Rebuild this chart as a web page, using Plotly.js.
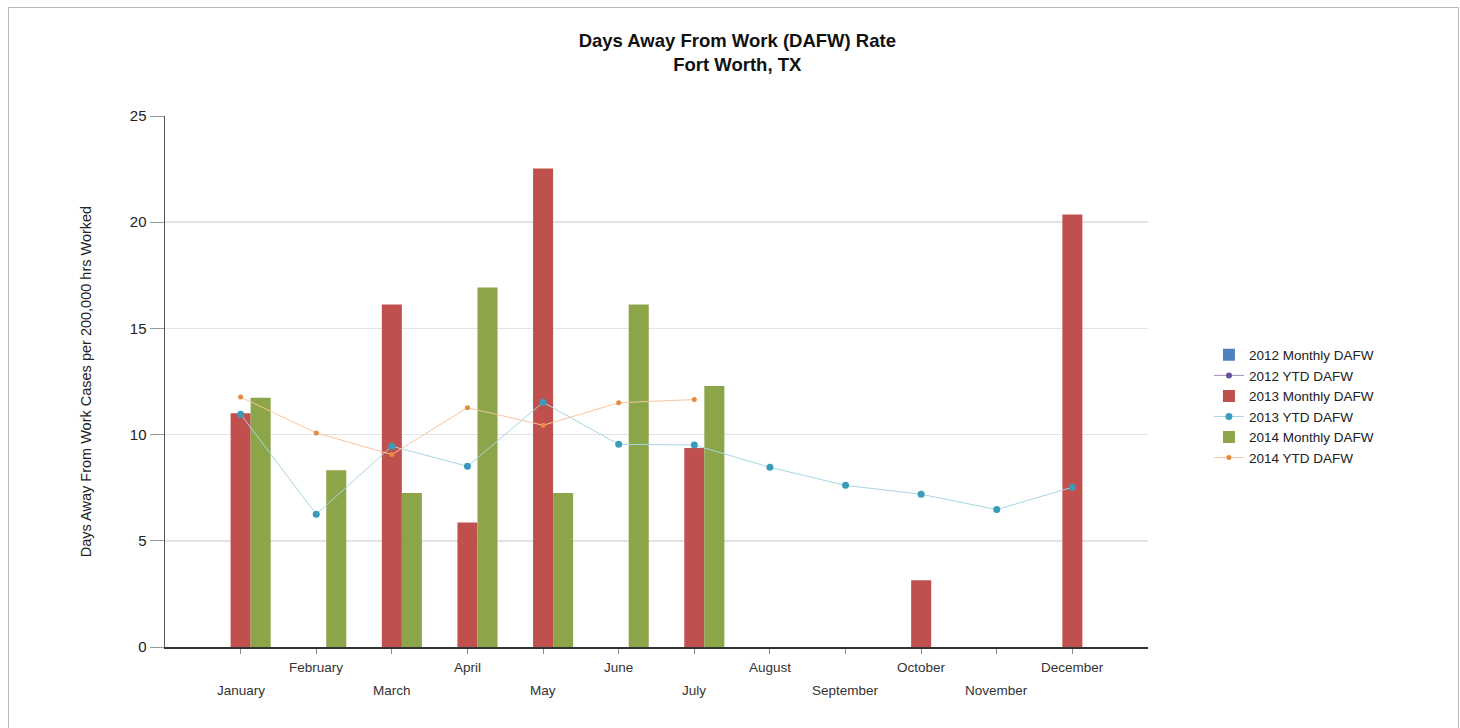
<!DOCTYPE html>
<html>
<head>
<meta charset="utf-8">
<script src="https://cdn.plot.ly/plotly-3.0.1.min.js"></script>
<style>
  html, body { margin: 0; padding: 0; background: #fff; }
  #chart { width: 1460px; height: 728px; position: absolute; left: 0; top: 0; }
  #frame { position: absolute; left: 8px; top: 7px; width: 1449px; height: 760px; border: 1px solid #b8b8b8; pointer-events: none; }
</style>
</head>
<body>
<div id="chart"></div>
<div id="frame"></div>
<script>
const months = ["January","February","March","April","May","June","July","August","September","October","November","December"];
const monthly2012 = [null,null,null,null,null,null,null,null,null,null,null,null];
const ytd2012 = [null,null,null,null,null,null,null,null,null,null,null,null];
const monthly2013 = [11.0, null, 16.13, 5.86, 22.53, null, 9.37, null, null, 3.14, null, 20.36];
const ytd2013 = [10.96, 6.25, 9.45, 8.51, 11.52, 9.54, 9.51, 8.46, 7.61, 7.19, 6.47, 7.52];
const monthly2014 = [11.74, 8.32, 7.25, 16.93, 7.25, 16.13, 12.29, null, null, null, null, null];
const ytd2014 = [11.77, 10.08, 9.06, 11.27, 10.44, 11.5, 11.65, null, null, null, null, null];

const FONT = "Liberation Sans, Arial, sans-serif";
const barW = 0.265;

const traces = [
  { type: "bar", name: "2012 Monthly DAFW", x: months, y: monthly2012, width: barW, offset: -1.5*barW,
    marker: { color: "#4f81bd" } },
  { type: "scatter", mode: "lines+markers", name: "2012 YTD DAFW", x: months, y: ytd2012,
    line: { color: "#a08cc0", width: 1 }, marker: { color: "#6a4f96", size: 6 } },
  { type: "bar", name: "2013 Monthly DAFW", x: months, y: monthly2013, width: barW, offset: -0.5*barW,
    marker: { color: "#c0504d" } },
  { type: "scatter", mode: "lines+markers", name: "2013 YTD DAFW", x: months, y: ytd2013,
    line: { color: "#a6d6e4", width: 1 }, marker: { color: "#3a9cbb", size: 7 } },
  { type: "bar", name: "2014 Monthly DAFW", x: months, y: monthly2014, width: barW, offset: 0.5*barW,
    marker: { color: "#8ba548" } },
  { type: "scatter", mode: "lines+markers", name: "2014 YTD DAFW", x: months, y: ytd2014,
    line: { color: "#f5c6a0", width: 1 }, marker: { color: "#e8893c", size: 5 } }
];

const annotations = months.map((m, i) => ({
  x: m, y: 0, xref: "x", yref: "paper", text: m, showarrow: false,
  yanchor: "top", xanchor: "center", yshift: (i % 2 === 0) ? -34 : -11,
  font: { family: FONT, size: 13.5, color: "#333" }
}));

const layout = {
  width: 1460, height: 728,
  margin: { l: 165, r: 312, t: 116, b: 81 },
  paper_bgcolor: "#fff", plot_bgcolor: "#fff",
  font: { family: FONT, color: "#222" },
  title: { text: "<b>Days Away From Work (DAFW) Rate<br>Fort Worth, TX</b>", x: 0.505, xanchor: "center",
           y: 0.936, yanchor: "top", font: { family: FONT, size: 18.5, color: "#111" } },
  barmode: "overlay",
  showlegend: true,
  legend: { x: 1.062, xanchor: "left", y: 0.579, yanchor: "top", font: { family: FONT, size: 13.5, color: "#222" },
            tracegroupgap: 0, bgcolor: "rgba(0,0,0,0)" },
  xaxis: {
    type: "category", range: [-1, 12], showgrid: false, zeroline: false,
    showline: true, linecolor: "#333", linewidth: 1.5,
    ticks: "outside", ticklen: 5, tickcolor: "#888", showticklabels: false, fixedrange: true
  },
  yaxis: {
    range: [0, 25], dtick: 5, tick0: 0, showgrid: true, gridcolor: "#e3e3e3", gridwidth: 1.5,
    zeroline: false, showline: true, linecolor: "#555", linewidth: 1.5,
    ticks: "outside", ticklen: 14, tickcolor: "#999",
    tickfont: { family: FONT, size: 15, color: "#222" },
    title: { text: "Days Away From Work Cases per 200,000 hrs Worked", standoff: 34,
             font: { family: FONT, size: 14.5, color: "#222" } },
    fixedrange: true
  },
  annotations: annotations
};

Plotly.newPlot("chart", traces, layout, { displayModeBar: false, staticPlot: true });
</script>
</body>
</html>
